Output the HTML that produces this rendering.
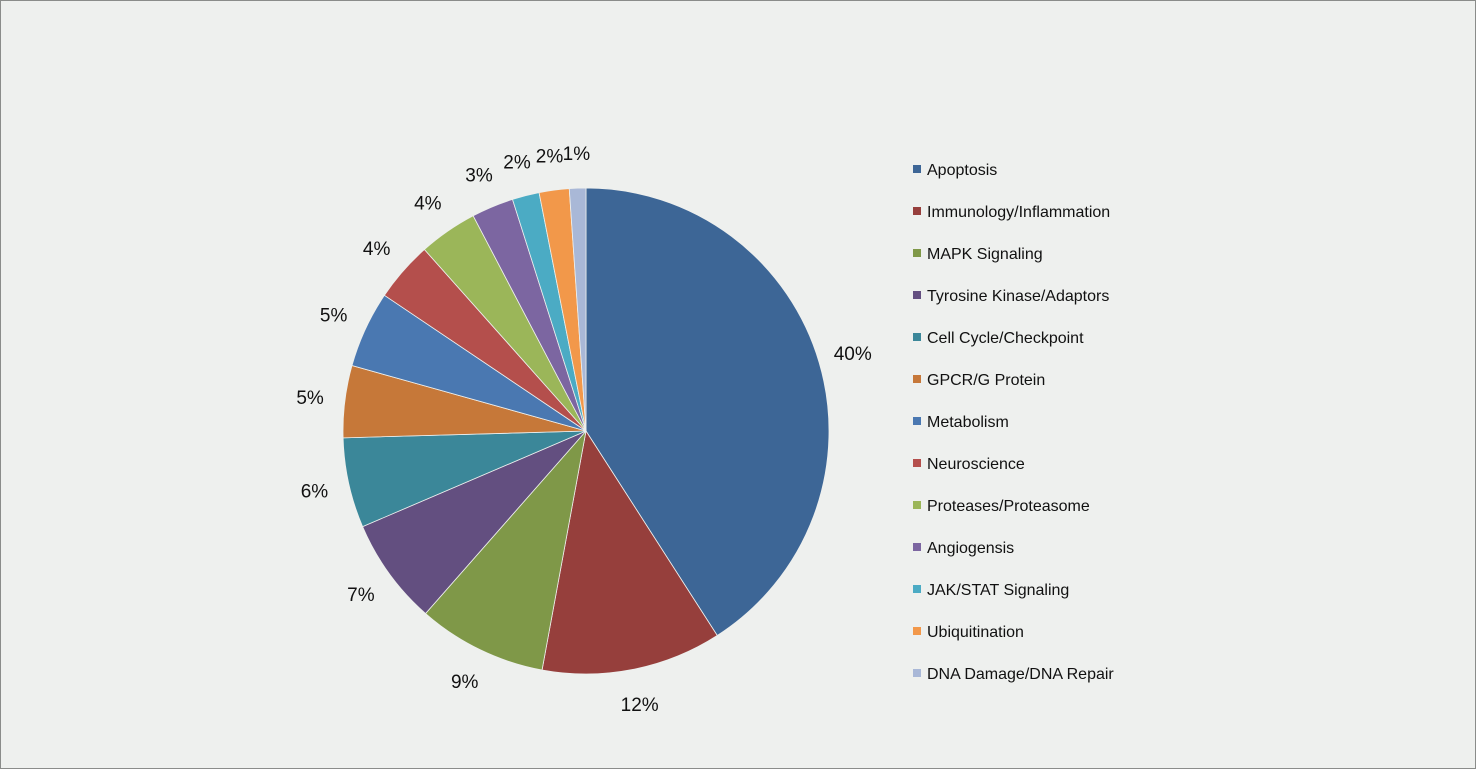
<!DOCTYPE html>
<html><head><meta charset="utf-8"><style>
html,body{margin:0;padding:0;background:#eef0ee}
svg{display:block}
text{font-family:"Liberation Sans",sans-serif}
</style></head><body>
<svg width="1476" height="769" viewBox="0 0 1476 769">
<rect x="0.5" y="0.5" width="1475" height="768" fill="#eef0ee" stroke="#8a8c8a"/>
<g id="slices"></g><g id="labels"></g><g id="legend"></g>
</svg>
<script>
const categories=["Apoptosis","Immunology/Inflammation","MAPK Signaling","Tyrosine Kinase/Adaptors","Cell Cycle/Checkpoint","GPCR/G Protein","Metabolism","Neuroscience","Proteases/Proteasome","Angiogensis","JAK/STAT Signaling","Ubiquitination","DNA Damage/DNA Repair"];
const values=[41.0,12.0,8.6,7.1,6.0,4.8,5.1,4.0,3.9,2.8,1.8,2.0,1.1];
const valueLabels=["40%","12%","9%","7%","6%","5%","5%","4%","4%","3%","2%","2%","1%"];
const colors=["#3d6696","#963f3c","#7f9848","#634f80","#3b8799","#c67839","#4a78b1","#b44f4c","#9bb659","#7c66a1","#4babc4","#f2984a","#a9b8d7"];
const NS="http://www.w3.org/2000/svg";
const cx=586,cy=431,R=243,LR=278;
const total=values.reduce((a,b)=>a+b,0);
function pt(a,r){return [cx+r*Math.sin(a),cy-r*Math.cos(a)];}
let acc=0;
const gS=document.getElementById('slices'),gL=document.getElementById('labels'),gG=document.getElementById('legend');
values.forEach((v,i)=>{
  const a0=acc/total*2*Math.PI; acc+=v; const a1=acc/total*2*Math.PI;
  const p0=pt(a0,R),p1=pt(a1,R);
  const large=(a1-a0)>Math.PI?1:0;
  const p=document.createElementNS(NS,'path');
  p.setAttribute('d',`M${cx},${cy} L${p0[0]},${p0[1]} A${R},${R} 0 ${large} 1 ${p1[0]},${p1[1]} Z`);
  p.setAttribute('fill',colors[i]);p.setAttribute('stroke','#eef0ee');p.setAttribute('stroke-width','0.8');
  
  
  gS.appendChild(p);
  const m=pt((a0+a1)/2,LR);
  const t=document.createElementNS(NS,'text');
  t.setAttribute('x',m[0]);t.setAttribute('y',m[1]+7);t.setAttribute('text-anchor','middle');
  t.setAttribute('font-size','19');t.setAttribute('fill','#111');
  t.textContent=valueLabels[i];
  
  
  gL.appendChild(t);
  const y=169+i*42;
  const r=document.createElementNS(NS,'rect');
  r.setAttribute('x',913);r.setAttribute('y',y-4);r.setAttribute('width',8);r.setAttribute('height',8);r.setAttribute('fill',colors[i]);
  
  
  gG.appendChild(r);
  const lt=document.createElementNS(NS,'text');
  lt.setAttribute('x',927);lt.setAttribute('y',y+6);lt.setAttribute('font-size','16');lt.setAttribute('fill','#111');
  lt.textContent=categories[i];
  
  
  gG.appendChild(lt);
});
</script>
</body></html>
